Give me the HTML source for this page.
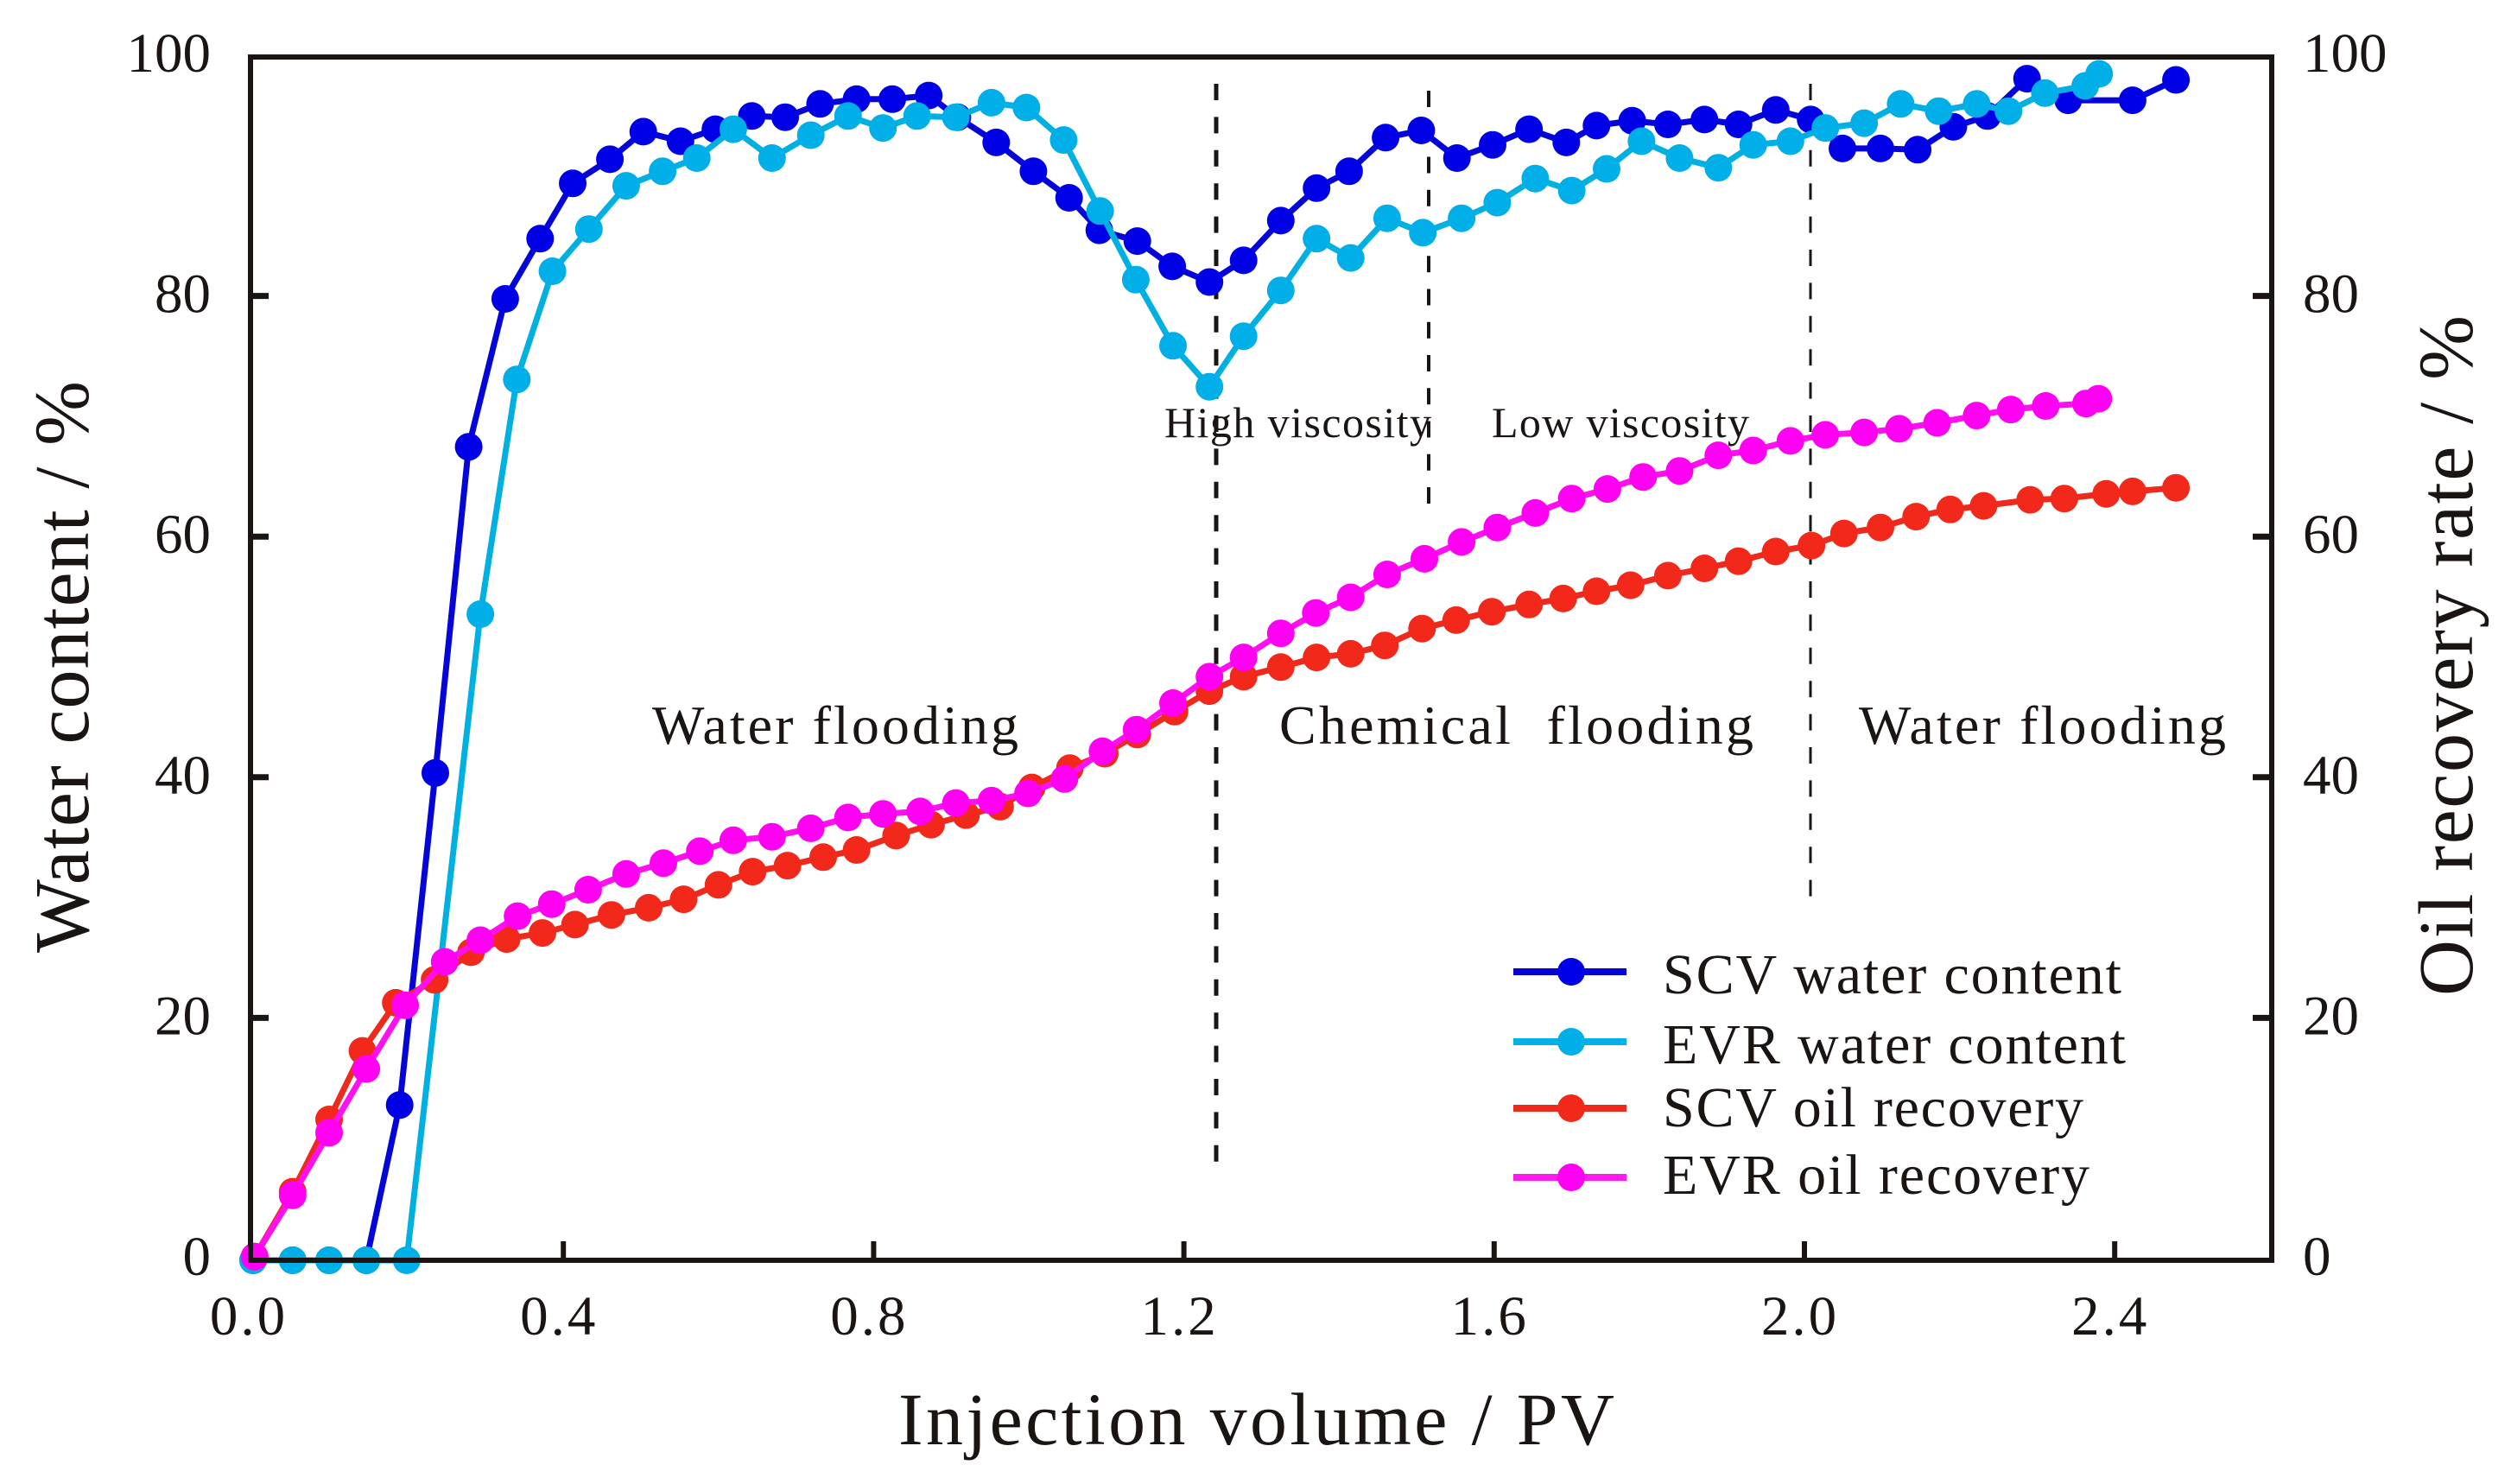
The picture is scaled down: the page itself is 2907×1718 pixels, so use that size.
<!DOCTYPE html>
<html lang="en">
<head>
<meta charset="utf-8">
<title>Water content and oil recovery versus injection volume</title>
<style>
html,body{margin:0;padding:0;background:#fff;width:2907px;height:1718px;overflow:hidden}
svg{display:block;font-family:"Liberation Serif",serif;fill:#1a1512}
</style>
</head>
<body>
<svg id="chart" xmlns="http://www.w3.org/2000/svg" width="2907" height="1718" viewBox="0 0 2907 1718">
  <rect x="0" y="0" width="2907" height="1718" fill="#fff"/>
  <g id="dividers" fill="none" stroke="#1a1512">
    <line x1="1408" y1="97" x2="1408" y2="1345" stroke-width="5" stroke-dasharray="19 19.4"/>
    <line x1="1654" y1="105" x2="1654" y2="584" stroke-width="4" stroke-dasharray="19 19.25"/>
    <line x1="2096" y1="97" x2="2096" y2="1038" stroke-width="3" stroke-dasharray="19 19.4"/>
  </g>
  <g id="series"></g>
  <g id="axes"></g>
  <rect x="290" y="66" width="2340" height="1393" fill="none" stroke="#1a1512" stroke-width="6"/>

  <text x="102" y="772" transform="rotate(-90 102 772)" text-anchor="middle" font-size="90" textLength="662" lengthAdjust="spacing">Water content / %</text>
  <text x="2862" y="759" transform="rotate(-90 2862 759)" text-anchor="middle" font-size="90" textLength="788" lengthAdjust="spacing">Oil recovery rate / %</text>
  <text x="1040" y="1672" font-size="86" textLength="829" lengthAdjust="spacing">Injection volume / PV</text>

  <text x="755" y="861" font-size="64" textLength="424" lengthAdjust="spacing">Water flooding</text>
  <text x="1481" y="861" font-size="64" textLength="549" lengthAdjust="spacing" xml:space="preserve">Chemical  flooding</text>
  <text x="2152" y="861" font-size="64" textLength="425" lengthAdjust="spacing">Water flooding</text>
  <text x="1348" y="506" font-size="50" textLength="309" lengthAdjust="spacing">High viscosity</text>
  <text x="1727" y="506" font-size="50" textLength="298" lengthAdjust="spacing">Low viscosity</text>

  <g>
    <g>
      <line x1="1752" y1="1125" x2="1883" y2="1125" stroke="#0505d8" stroke-width="8"/>
      <circle cx="1819" cy="1125" r="16" fill="#0000e6"/>
      <text x="1925" y="1150" font-size="66" textLength="531" lengthAdjust="spacing">SCV water content</text>
    </g>
    <g>
      <line x1="1752" y1="1206" x2="1883" y2="1206" stroke="#00b0e6" stroke-width="8"/>
      <circle cx="1819" cy="1206" r="16" fill="#00aee8"/>
      <text x="1925" y="1231" font-size="66" textLength="536" lengthAdjust="spacing">EVR water content</text>
    </g>
    <g>
      <line x1="1752" y1="1283" x2="1883" y2="1283" stroke="#ee2a1c" stroke-width="8"/>
      <circle cx="1819" cy="1283" r="16" fill="#f2281a"/>
      <text x="1925" y="1304" font-size="66" textLength="487" lengthAdjust="spacing">SCV oil recovery</text>
    </g>
    <g>
      <line x1="1752" y1="1363" x2="1883" y2="1363" stroke="#ff1af0" stroke-width="8"/>
      <circle cx="1819" cy="1363" r="16" fill="#ff00f2"/>
      <text x="1925" y="1382" font-size="66" textLength="494" lengthAdjust="spacing">EVR oil recovery</text>
    </g>
  </g>
</svg>
<script>
var xTickValues = [0.0, 0.4, 0.8, 1.2, 1.6, 2.0, 2.4];
var xTickLabels = ['0.0', '0.4', '0.8', '1.2', '1.6', '2.0', '2.4'];
var yTickValues = [0, 20, 40, 60, 80, 100];
var yTickLabels = ['0', '20', '40', '60', '80', '100'];

var scvWaterX = [0,.051,.098,.146,.189,.235,.278,.325,.37,.412,.46,.503,.551,.596,.643,.686,.731,.778,.824,.871,.908,.958,1.006,1.052,1.091,1.14,1.185,1.233,1.277,1.325,1.371,1.413,1.46,1.506,1.552,1.598,1.645,1.693,1.732,1.778,1.824,1.871,1.915,1.963,2.008,2.049,2.098,2.146,2.192,2.236,2.287,2.34,2.423,2.479];
var scvWaterY = [0,0,0,0,12.9,40.5,67.6,79.9,84.9,89.5,91.5,93.8,93,94,95.1,95,96.1,96.5,96.5,96.8,95,92.9,90.5,88.3,85.6,84.7,82.6,81.3,83.1,86.4,89.1,90.5,93.3,93.9,91.6,92.7,94,92.9,94.3,94.7,94.4,94.8,94.4,95.6,94.8,92.4,92.4,92.3,94.2,95.1,98.2,96.4,96.4,98.1];

var evrWaterX = [0,.051,.098,.146,.198,.293,.34,.386,.433,.481,.528,.572,.619,.669,.719,.767,.812,.856,.906,.952,.997,1.045,1.092,1.138,1.186,1.233,1.277,1.325,1.371,1.415,1.462,1.508,1.558,1.604,1.653,1.7,1.745,1.79,1.839,1.889,1.934,1.982,2.027,2.077,2.124,2.173,2.222,2.263,2.31,2.362,2.38];
var evrWaterY = [0,0,0,0,0,53.7,73.2,82.2,85.7,89.3,90.5,91.6,94,91.6,93.5,95.1,94.1,95.1,95,96.2,95.8,93.1,87.2,81.5,76,72.6,76.8,80.6,84.9,83.3,86.6,85.4,86.6,87.9,89.9,88.9,90.7,93,91.6,90.8,92.7,93,94.1,94.5,96.1,95.5,96.1,95.5,97,97.6,98.6];

var scvOilX = [.002,.051,.098,.141,.184,.234,.281,.327,.373,.415,.462,.51,.555,.6,.644,.689,.735,.778,.829,.874,.919,.963,1.004,1.053,1.098,1.14,1.188,1.233,1.277,1.325,1.371,1.415,1.459,1.507,1.551,1.597,1.645,1.689,1.732,1.776,1.824,1.871,1.915,1.963,2.009,2.051,2.098,2.144,2.188,2.231,2.291,2.335,2.389,2.423,2.479];
var scvOilY = [.3,5.7,11.7,17.4,21.4,23.3,25.6,26.7,27.2,27.9,28.7,29.3,30,31.2,32.3,32.8,33.5,34.1,35.3,36.2,37,37.7,39.3,40.9,42.1,43.7,45.6,47.3,48.5,49.3,50.1,50.4,51.1,52.5,53.2,53.9,54.5,55,55.6,56.1,56.9,57.5,58.1,58.9,59.4,60.4,60.9,61.8,62.4,62.7,63.2,63.3,63.7,63.9,64.2];

var evrOilX = [.002,.051,.098,.146,.196,.247,.293,.341,.385,.432,.481,.529,.576,.619,.669,.719,.767,.812,.86,.906,.952,.999,1.046,1.095,1.139,1.186,1.233,1.277,1.325,1.37,1.415,1.462,1.51,1.558,1.604,1.653,1.7,1.746,1.792,1.839,1.889,1.934,1.982,2.027,2.077,2.122,2.171,2.222,2.266,2.311,2.363,2.379];
var evrOilY = [.3,5.4,10.6,15.9,21.2,24.8,26.6,28.6,29.6,30.8,32.1,33,34,34.9,35.2,35.9,36.8,37.1,37.3,38,38.2,38.8,40,42.3,44.1,46.3,48.5,50.1,52.1,53.8,55.1,57,58.3,59.7,60.9,62.1,63.3,64.1,65.1,65.6,66.9,67.3,68.1,68.6,68.8,69.1,69.6,70.2,70.7,71,71.2,71.6];

var SVG_NS = 'http://www.w3.org/2000/svg';
var xScale = function (v) { return 293 + 898 * v; };
var yScale = function (p) { return 1459 - 13.93 * p; };

function make(parent, tag, attrs, text) {
  var node = document.createElementNS(SVG_NS, tag);
  for (var k in attrs) { node.setAttribute(k, attrs[k]); }
  if (text !== undefined) { node.textContent = text; }
  parent.appendChild(node);
  return node;
}

function drawSeries(key, xs, ys, lineColor, markerColor, lineWidth) {
  var root = document.getElementById('series');
  var group = make(root, 'g', {});
  
  
  var pts = xs.map(function (x, i) { return xScale(x).toFixed(1) + ',' + yScale(ys[i]).toFixed(1); }).join(' ');
  var line = make(group, 'polyline', { points: pts, fill: 'none', stroke: lineColor, 'stroke-width': lineWidth, 'stroke-linejoin': 'round' });
  
  
  xs.forEach(function (x, i) {
    var dot = make(group, 'circle', { cx: xScale(x).toFixed(1), cy: yScale(ys[i]).toFixed(1), r: 16, fill: markerColor });
    
    
  });
}

drawSeries('scv-water-content', scvWaterX, scvWaterY, '#0505d8', '#0000e6', 7);
drawSeries('evr-water-content', evrWaterX, evrWaterY, '#00b0e0', '#00aee8', 7);
drawSeries('scv-oil-recovery', scvOilX, scvOilY, '#ee2a1c', '#f2281a', 7);
drawSeries('evr-oil-recovery', evrOilX, evrOilY, '#ff10f0', '#ff00f2', 7);

var axes = document.getElementById('axes');

xTickValues.forEach(function (v, i) {
  var px = xScale(v);
  if (i > 0) {
    var tick = make(axes, 'line', { x1: px, x2: px, y1: 1459, y2: 1437, stroke: '#1a1512', 'stroke-width': 6 });
    
    
  }
  var label = make(axes, 'text', { x: px - 5, y: 1545, 'font-size': 65, 'text-anchor': 'middle', 'letter-spacing': 3 }, xTickLabels[i]);
  
  
});

yTickValues.forEach(function (v, i) {
  var py = yScale(v);
  if (v > 0 && v < 100) {
    var tickLeft = make(axes, 'line', { x1: 290, x2: 311, y1: py - 2, y2: py - 2, stroke: '#1a1512', 'stroke-width': 7 });
    
    
    var tickRight = make(axes, 'line', { x1: 2608, x2: 2630, y1: py - 2, y2: py - 2, stroke: '#1a1512', 'stroke-width': 7 });
    
    
  }
  var labelLeft = make(axes, 'text', { x: 244, y: py + 17, 'font-size': 65, 'text-anchor': 'end' }, yTickLabels[i]);
  
  
  var labelRight = make(axes, 'text', { x: 2666, y: py + 17, 'font-size': 65 }, yTickLabels[i]);
  
  
});
</script>
</body>
</html>
